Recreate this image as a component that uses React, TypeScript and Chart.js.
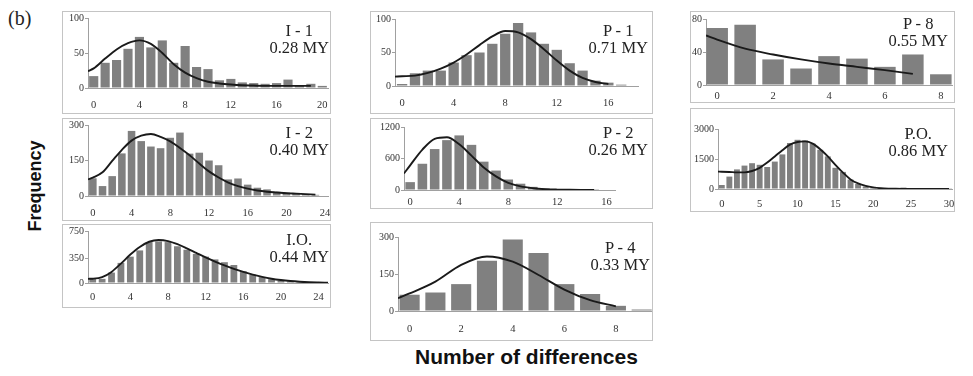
import React, { useEffect, useRef } from "react";
import { Chart, registerables } from "chart.js";

Chart.register(...registerables);

// ---------------- data ----------------
const i1Bars = [17, 36, 40, 56, 73, 58, 68, 36, 60, 30, 27, 11, 13, 8, 7, 6, 7, 12, 4, 6, 3];
const i1CurveX = [-0.5, 0, 1, 2, 3, 4, 5, 6, 7, 8, 9, 10, 11, 12, 13, 14, 15, 16, 17, 18, 19];
const i1CurveY = [24, 28, 42, 55, 64, 68, 63, 50, 34, 22, 14, 9, 6.5, 5, 4, 3.5, 3, 3, 3, 3, 3];
const i1YTicks = [0, 50, 100];
const i1XTicks = [0, 4, 8, 12, 16, 20];
const i1Title = ["I - 1", "0.28 MY"];

const i2Bars = [75, 42, 84, 180, 275, 232, 209, 202, 246, 268, 179, 183, 150, 130, 70, 74, 48, 35, 28, 18, 15, 10, 8, 5, 2];
const i2CurveX = [-0.5, 0, 1, 2, 3, 4, 5, 6, 7, 8, 9, 10, 11, 12, 13, 14, 15, 16, 17, 18, 19, 20, 21, 22, 23];
const i2CurveY = [70, 78, 100, 148, 195, 234, 255, 262, 250, 231, 203, 172, 137, 104, 78, 57, 42, 31, 23, 18, 15, 12, 10, 8, 6];
const i2YTicks = [0, 150, 300];
const i2XTicks = [0, 4, 8, 12, 16, 20, 24];
const i2Title = ["I - 2", "0.40 MY"];

const ioBars = [70, 60, 150, 290, 380, 470, 590, 600, 590, 530, 480, 420, 380, 340, 300, 260, 170, 120, 85, 55, 35, 22, 14, 8, 5];
const ioCurveX = [-0.5, 0, 1, 2, 3, 4, 5, 6, 7, 8, 9, 10, 11, 12, 13, 14, 15, 16, 17, 18, 19, 20, 21, 22, 23, 24, 25];
const ioCurveY = [60, 62, 85, 160, 280, 410, 520, 595, 620, 605, 560, 500, 435, 370, 310, 255, 205, 160, 120, 88, 62, 43, 29, 19, 12, 8, 5];
const ioYTicks = [0, 350, 750];
const ioXTicks = [0, 4, 8, 12, 16, 20, 24];
const ioTitle = ["I.O.", "0.44 MY"];

const p1Bars = [3, 19, 23, 23, 35, 46, 50, 63, 78, 94, 80, 63, 54, 34, 23, 8, 5, 2];
const p1CurveX = [-0.55, 0, 1, 2, 3, 4, 5, 6, 7, 8, 9, 10, 11, 12, 13, 14, 15, 16];
const p1CurveY = [14, 14.5, 15.5, 19.5, 26, 35, 47, 61, 74, 82, 80, 70, 55, 38, 23, 12, 6, 3];
const p1YTicks = [0, 50, 100];
const p1XTicks = [0, 4, 8, 12, 16];
const p1Title = ["P - 1", "0.71 MY"];

const p2Bars = [150, 500, 780, 950, 1040, 860, 540, 370, 200, 120, 60, 30, 15, 8, 5, 3];
const p2CurveX = [-0.5, 0, 1, 2, 3, 4, 5, 6, 7, 8, 9, 10, 11, 12, 13, 14, 15];
const p2CurveY = [314, 470, 770, 975, 1005, 870, 655, 430, 260, 136, 68, 34, 16, 8, 4, 2, 1];
const p2YTicks = [0, 600, 1200];
const p2XTicks = [0, 4, 8, 12, 16];
const p2Title = ["P - 2", "0.26 MY"];

const p4Bars = [66, 75, 109, 204, 290, 235, 109, 69, 21, 6];
const p4CurveX = [-0.45, 0, 1, 2, 3, 4, 5, 6, 7, 8];
const p4CurveY = [52, 71, 119, 187, 221, 200, 146, 87, 44, 19];
const p4YTicks = [0, 150, 300];
const p4XTicks = [0, 2, 4, 6, 8];
const p4Title = ["P - 4", "0.33 MY"];

const p8Bars = [69, 73, 31, 20, 35, 32, 22, 37, 13];
const p8CurveX = [-0.4, 0, 1, 2, 3, 4, 5, 6, 7];
const p8CurveY = [60, 55, 44, 37, 31, 26, 22, 18, 13.5];
const p8YTicks = [0, 40, 80];
const p8XTicks = [0, 2, 4, 6, 8];
const p8Title = ["P - 8", "0.55 MY"];

const poBars = [200, 620, 980, 1170, 1290, 1210, 1100, 1370, 1730, 2300, 2460, 2430, 2270, 1960, 1630, 1060, 855, 470, 250, 125, 80, 50, 30, 40, 70, 50, 50, 40, 30, 20, 10];
const poCurveX = [-0.5, 0, 1, 2, 3, 4, 5, 6, 7, 8, 9, 10, 11, 12, 13, 14, 15, 16, 17, 18, 19, 20, 21, 22, 23, 24, 25, 26, 27, 28, 29, 30];
const poCurveY = [870, 865, 850, 830, 830, 900, 1060, 1320, 1630, 1940, 2220, 2350, 2380, 2270, 1990, 1630, 1210, 820, 480, 280, 155, 80, 40, 20, 10, 6, 4, 3, 2, 2, 1, 1];
const poYTicks = [0, 1500, 3000];
const poXTicks = [0, 5, 10, 15, 20, 25, 30];
const poTitle = ["P.O.", "0.86 MY"];

const figureLabel = "(b)";
const yAxisTitle = "Frequency";
const xAxisTitle = "Number of differences";

// ---------------- layout (page px) ----------------
type Panel = {
  bars: number[]; cx: number[]; cy: number[]; yTicks: number[]; xTicks: number[]; title: string[];
  xMin: number; xMax: number;
  box: [number, number, number, number]; // left, top, width, height
  plot: [number, number, number, number]; // left, top, right, bottom (page px)
  gap: number; barFrac: number; tRight: number; tTop: number;
};

const panels: Panel[] = [
  { bars: i1Bars, cx: i1CurveX, cy: i1CurveY, yTicks: i1YTicks, xTicks: i1XTicks, title: i1Title,
    xMin: -0.5, xMax: 20.5, box: [62, 11, 269, 103], plot: [88, 18, 328, 88], gap: 17, barFrac: 0.8, tRight: 329, tTop: 30 },
  { bars: i2Bars, cx: i2CurveX, cy: i2CurveY, yTicks: i2YTicks, xTicks: i2XTicks, title: i2Title,
    xMin: -0.5, xMax: 24.3, box: [62, 118, 269, 103], plot: [88, 125, 328, 196], gap: 17, barFrac: 0.78, tRight: 329, tTop: 132 },
  { bars: ioBars, cx: ioCurveX, cy: ioCurveY, yTicks: ioYTicks, xTicks: ioXTicks, title: ioTitle,
    xMin: -0.5, xMax: 25, box: [62, 224, 269, 84], plot: [88, 231, 328, 283], gap: 14, barFrac: 0.72, tRight: 329, tTop: 239 },
  { bars: p1Bars, cx: p1CurveX, cy: p1CurveY, yTicks: p1YTicks, xTicks: p1XTicks, title: p1Title,
    xMin: -0.55, xMax: 18.3, box: [370, 11, 283, 103], plot: [395, 19, 638, 86], gap: 17, barFrac: 0.8, tRight: 648, tTop: 30 },
  { bars: p2Bars, cx: p2CurveX, cy: p2CurveY, yTicks: p2YTicks, xTicks: p2XTicks, title: p2Title,
    xMin: -0.5, xMax: 16.7, box: [370, 118, 283, 91], plot: [404, 127, 615, 190], gap: 12, barFrac: 0.78, tRight: 648, tTop: 132 },
  { bars: p4Bars, cx: p4CurveX, cy: p4CurveY, yTicks: p4YTicks, xTicks: p4XTicks, title: p4Title,
    xMin: -0.45, xMax: 9.4, box: [370, 222, 283, 119], plot: [398, 237, 652, 311], gap: 18, barFrac: 0.78, tRight: 650, tTop: 247 },
  { bars: p8Bars, cx: p8CurveX, cy: p8CurveY, yTicks: p8YTicks, xTicks: p8XTicks, title: p8Title,
    xMin: -0.4, xMax: 8.4, box: [690, 11, 265, 92], plot: [706, 19, 952, 85], gap: 11, barFrac: 0.77, tRight: 948, tTop: 23 },
  { bars: poBars, cx: poCurveX, cy: poCurveY, yTicks: poYTicks, xTicks: poXTicks, title: poTitle,
    xMin: -0.5, xMax: 30.4, box: [690, 108, 265, 104], plot: [718, 129, 952, 189], gap: 15, barFrac: 0.78, tRight: 948, tTop: 133 },
];

const SERIF = "'Liberation Serif', 'DejaVu Serif', serif";
const SANS = "'Liberation Sans', Arial, sans-serif";

function PanelChart({ p }: { p: Panel }) {
  const ref = useRef<HTMLCanvasElement>(null);
  const [bl, bt, bw, bh] = p.box;
  const [pl, pt, pr, pb] = p.plot;
  useEffect(() => {
    if (!ref.current) return;
    const yMax = p.yTicks[p.yTicks.length - 1];
    const chart = new Chart(ref.current, {
      type: "bar",
      data: {
        datasets: [
          {
            type: "line",
            data: p.cx.map((x, i) => ({ x, y: p.cy[i] })),
            borderColor: "#1a1a1a",
            borderWidth: 1.9,
            pointRadius: 0,
            fill: false,
            cubicInterpolationMode: "monotone",
            order: 0,
          } as any,
          {
            type: "bar",
            data: p.bars.map((v, i) => ({ x: i, y: v })),
            backgroundColor: "#808080",
            borderWidth: 0,
            barPercentage: p.barFrac,
            categoryPercentage: 1,
            order: 1,
          } as any,
        ],
      },
      options: {
        animation: false,
        responsive: false,
        maintainAspectRatio: false,
        events: [],
        layout: { padding: { left: 0, top: pt - bt, right: bl + bw - pr, bottom: 0 } },
        plugins: { legend: { display: false }, tooltip: { enabled: false }, title: { display: false } },
        scales: {
          x: {
            type: "linear",
            min: p.xMin,
            max: p.xMax,
            offset: false,
            grid: { display: true, offset: false, drawOnChartArea: false, drawTicks: true, tickLength: Math.max(p.gap - 6, 1), tickColor: "rgba(0,0,0,0)" },
            border: { display: true, color: "#a0a0a0", width: 1 },
            ticks: { font: { family: SERIF, size: 10.5 }, color: "#333", padding: 0, maxRotation: 0, autoSkip: false, callback: (v: any) => String(v) },
            afterBuildTicks: (s: any) => { s.ticks = p.xTicks.map((v) => ({ value: v })); },
            afterFit: (s: any) => { s.height = bt + bh - pb; },
          },
          y: {
            type: "linear",
            min: 0,
            max: yMax,
            grid: { display: true, drawOnChartArea: false, drawTicks: true, tickLength: 3, color: "#a0a0a0" },
            border: { display: true, color: "#a0a0a0", width: 1 },
            ticks: { font: { family: SERIF, size: 10 }, color: "#333", padding: 1, callback: (v: any) => String(v) },
            afterBuildTicks: (s: any) => { s.ticks = p.yTicks.map((v) => ({ value: v })); },
            afterFit: (s: any) => { s.width = pl - bl; },
          },
        },
      },
    });
    return () => chart.destroy();
  }, []);
  return (
    <>
      <canvas ref={ref} width={bw} height={bh} style={{ position: "absolute", left: bl, top: bt, width: bw, height: bh }} />
      <div style={{ position: "absolute", left: bl, top: bt, width: bw, height: bh, boxSizing: "border-box", border: "1px solid #c4c4c4", pointerEvents: "none" }} />
      <div
        style={{
          position: "absolute",
          right: 973 - p.tRight,
          top: p.tTop - 8.5,
          textAlign: "center",
          fontFamily: SERIF,
          fontSize: 16.5,
          lineHeight: "17px",
          color: "#222",
          whiteSpace: "nowrap",
        }}
      >
        {p.title.map((t, i) => (
          <div key={i}>{t}</div>
        ))}
      </div>
    </>
  );
}

export default function App() {
  return (
    <div style={{ position: "absolute", left: 0, top: 0, width: 973, height: 376, background: "#fff", overflow: "hidden" }}>
      <div style={{ position: "absolute", left: 8, top: 7, fontFamily: SERIF, fontSize: 20, lineHeight: "22px", color: "#222" }}>{figureLabel}</div>
      <div
        style={{
          position: "absolute",
          left: 35,
          top: 186,
          transform: "translate(-50%, -50%) rotate(-90deg)",
          fontFamily: SANS,
          fontWeight: "bold",
          fontSize: 18,
          whiteSpace: "nowrap",
          color: "#111",
        }}
      >
        {yAxisTitle}
      </div>
      <div
        style={{
          position: "absolute",
          left: 415,
          top: 345,
          fontFamily: SANS,
          fontWeight: "bold",
          fontSize: 21,
          lineHeight: "24px",
          whiteSpace: "nowrap",
          color: "#111",
        }}
      >
        {xAxisTitle}
      </div>
      {panels.map((p, i) => (
        <PanelChart key={i} p={p} />
      ))}
    </div>
  );
}
